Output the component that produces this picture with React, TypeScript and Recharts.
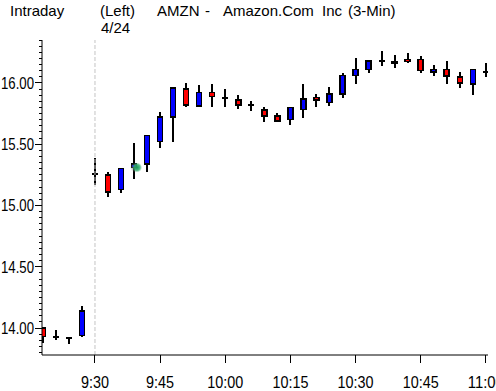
import React from 'react';
import { ComposedChart, Bar, XAxis, YAxis, ReferenceLine, ReferenceDot } from 'recharts';

// 3-minute bars, 4/24
const times = [
  '9:18', '9:21', '9:24', '9:27', '9:30', '9:33', '9:36', '9:39', '9:42', '9:45',
  '9:48', '9:51', '9:54', '9:57', '10:00', '10:03', '10:06', '10:09', '10:12', '10:15',
  '10:18', '10:21', '10:24', '10:27', '10:30', '10:33', '10:36', '10:39', '10:42', '10:45',
  '10:48', '10:51', '10:54', '10:57', '11:00',
];
const opens = [
  14.0, 13.93, 13.92, 13.94, 15.26, 15.25, 15.13, 15.31, 15.34, 15.52,
  15.72, 15.95, 15.81, 15.92, 15.88, 15.86, 15.82, 15.78, 15.73, 15.7,
  15.785, 15.88, 15.84, 15.91, 16.06, 16.11, 16.18, 16.16, 16.19, 16.19,
  16.09, 16.11, 16.05, 15.99, 16.09,
];
const highs = [
  14.01, 13.98, 13.93, 14.18, 15.39, 15.27, 15.3, 15.51, 15.57, 15.76,
  15.97, 16.0, 15.98, 15.99, 15.95, 15.9, 15.85, 15.8, 15.755, 15.8,
  15.99, 15.91, 15.97, 16.08, 16.2, 16.19, 16.26, 16.23, 16.24, 16.22,
  16.15, 16.18, 16.09, 16.11, 16.16,
];
const lows = [
  13.88, 13.9, 13.87, 13.93, 15.17, 15.07, 15.1, 15.22, 15.27, 15.47,
  15.52, 15.8, 15.8, 15.8, 15.8, 15.785, 15.77, 15.68, 15.68, 15.66,
  15.71, 15.8, 15.81, 15.88, 15.99, 16.08, 16.14, 16.125, 16.165, 16.08,
  16.06, 15.99, 15.96, 15.9, 16.05,
];
const closes = [
  13.93, 13.93, 13.92, 14.14, 15.26, 15.11, 15.3, 15.34, 15.57, 15.72,
  15.96, 15.82, 15.92, 15.89, 15.88, 15.82, 15.82, 15.73, 15.69, 15.8,
  15.87, 15.86, 15.91, 16.06, 16.11, 16.18, 16.18, 16.17, 16.175, 16.1,
  16.11, 16.055, 16.0, 16.11, 16.09,
];

const xTickLabels = ['9:30', '9:45', '10:00', '10:15', '10:30', '10:45', '11:00'];
const yMajorLabels = ['14.00', '14.50', '15.00', '15.50', '16.00'];
const cursorMark = { time: '9:39', offsetMin: 0.7, price: 15.31 };

const toMin = (s: string) => {
  const [h, m] = s.split(':').map(Number);
  return h * 60 + m;
};

const data = times.map((t, i) => ({
  t: toMin(t),
  label: t,
  open: opens[i],
  high: highs[i],
  low: lows[i],
  close: closes[i],
}));

const xTicks = xTickLabels.map(toMin);
const yMajor = yMajorLabels.map(Number);
const yTicks: number[] = [];
for (let k = 276; k <= 327; k++) yTicks.push(Math.round(k * 5) / 100);

const AXIS_FONT = "'Liberation Sans', Arial, sans-serif";

const Candle = (props: any) => {
  const { x, y, width, height, payload } = props;
  if (x == null || y == null || !payload) return null;
  const top = Math.min(y, y + height);
  const bot = Math.max(y, y + height);
  const { open, high, low, close } = payload;
  const span = high - low;
  const py = (v: number) => (span === 0 ? top : top + ((high - v) / span) * (bot - top));
  const cx = x + width / 2;
  const bodyW = 5;
  const yo = py(open);
  const yc = py(close);
  const wick = (
    <line x1={cx} x2={cx} y1={top} y2={bot} stroke="#000" strokeWidth={2} shapeRendering="crispEdges" />
  );
  if (open === close) {
    return (
      <g>
        {wick}
        <line x1={cx - 3} x2={cx + 3} y1={yo} y2={yo} stroke="#000" strokeWidth={2} shapeRendering="crispEdges" />
      </g>
    );
  }
  const fill = close > open ? '#0000ff' : '#ff0000';
  return (
    <g>
      {wick}
      <rect
        x={cx - bodyW / 2}
        y={Math.min(yo, yc)}
        width={bodyW}
        height={Math.max(Math.abs(yc - yo), 1)}
        fill={fill}
        stroke="#000"
        strokeWidth={1.5}
        shapeRendering="crispEdges"
      />
    </g>
  );
};

const YTick = (props: any) => {
  const { x, y, payload } = props;
  const v = payload.value;
  const major = yMajor.some((m) => Math.abs(m - v) < 1e-6);
  const len = major ? 7 : 3;
  return (
    <g>
      <line x1={x - len} x2={x} y1={y} y2={y} stroke="#000" strokeWidth={1} shapeRendering="crispEdges" />
      {major && (
        <text
          x={x - len - 34}
          y={y + 6}
          textAnchor="start"
          fontSize={17}
          fontFamily={AXIS_FONT}
          fill="#000"
          textLength={33}
          lengthAdjust="spacingAndGlyphs"
        >
          {v.toFixed(2)}
        </text>
      )}
    </g>
  );
};

const XTick = (props: any) => {
  const { x, y, payload } = props;
  const idx = xTicks.indexOf(payload.value);
  const label = idx >= 0 ? xTickLabels[idx] : '';
  const w = label.length >= 5 ? 36 : 28;
  return (
    <g>
      <line x1={x} x2={x} y1={y} y2={y + 8} stroke="#000" strokeWidth={1} shapeRendering="crispEdges" />
      <text
        x={x - w / 2}
        y={y + 33}
        textAnchor="start"
        fontSize={17}
        fontFamily={AXIS_FONT}
        fill="#000"
        textLength={w}
        lengthAdjust="spacingAndGlyphs"
      >
        {label}
      </text>
    </g>
  );
};

const headerStyle: React.CSSProperties = {
  position: 'absolute',
  fontFamily: "'Liberation Sans', Arial, sans-serif",
  fontSize: 15,
  color: '#000',
  lineHeight: '15px',
  whiteSpace: 'pre',
};

export default function App() {
  return (
    <div style={{ position: 'absolute', left: 0, top: 0, width: 496, height: 391, background: '#fff', overflow: 'hidden' }}>
      <ComposedChart
        width={496}
        height={391}
        data={data}
        margin={{ top: 40, right: 8, bottom: 0, left: 0 }}
      >
        <defs>
          <radialGradient id="cursorGlow">
            <stop offset="0%" stopColor="#1c9a5a" stopOpacity={1} />
            <stop offset="60%" stopColor="#2fae6c" stopOpacity={0.8} />
            <stop offset="100%" stopColor="#4cc080" stopOpacity={0} />
          </radialGradient>
          <radialGradient id="cursorShadow">
            <stop offset="0%" stopColor="#444" stopOpacity={0.8} />
            <stop offset="100%" stopColor="#888" stopOpacity={0} />
          </radialGradient>
        </defs>
        <XAxis
          dataKey="t"
          type="number"
          domain={[557.8, 660.5]}
          allowDataOverflow
          ticks={xTicks}
          interval={0}
          height={36}
          axisLine={{ stroke: '#000', strokeWidth: 1 }}
          tickLine={false}
          tickSize={0}
          tickMargin={0}
          tick={<XTick />}
        />
        <YAxis
          type="number"
          domain={[13.78, 16.35]}
          allowDataOverflow
          ticks={yTicks}
          interval={0}
          width={42}
          axisLine={{ stroke: '#000', strokeWidth: 1 }}
          tickLine={false}
          tickSize={0}
          tickMargin={0}
          tick={<YTick />}
        />
        <ReferenceLine x={toMin('9:30')} stroke="#c4c4c4" strokeWidth={1} strokeDasharray="4 2" />
        <Bar
          dataKey={(d: any) => [d.low, d.high]}
          barSize={7}
          shape={<Candle />}
          isAnimationActive={false}
        />
        <ReferenceDot
          x={toMin(cursorMark.time) + cursorMark.offsetMin - 0.5}
          y={cursorMark.price}
          r={5}
          fill="url(#cursorShadow)"
          stroke="none"
        />
        <ReferenceDot
          x={toMin(cursorMark.time) + cursorMark.offsetMin}
          y={cursorMark.price}
          r={5}
          fill="url(#cursorGlow)"
          stroke="none"
        />
      </ComposedChart>
      <div style={{ ...headerStyle, left: 10, top: 3 }}>Intraday</div>
      <div style={{ ...headerStyle, left: 100, top: 3 }}>(Left)</div>
      <div style={{ ...headerStyle, left: 157, top: 3 }}>AMZN</div>
      <div style={{ ...headerStyle, left: 205, top: 3 }}>-</div>
      <div style={{ ...headerStyle, left: 223, top: 3 }}>Amazon.Com</div>
      <div style={{ ...headerStyle, left: 322, top: 3 }}>Inc</div>
      <div style={{ ...headerStyle, left: 348, top: 3 }}>(3-Min)</div>
      <div style={{ ...headerStyle, left: 101, top: 20 }}>4/24</div>
    </div>
  );
}
